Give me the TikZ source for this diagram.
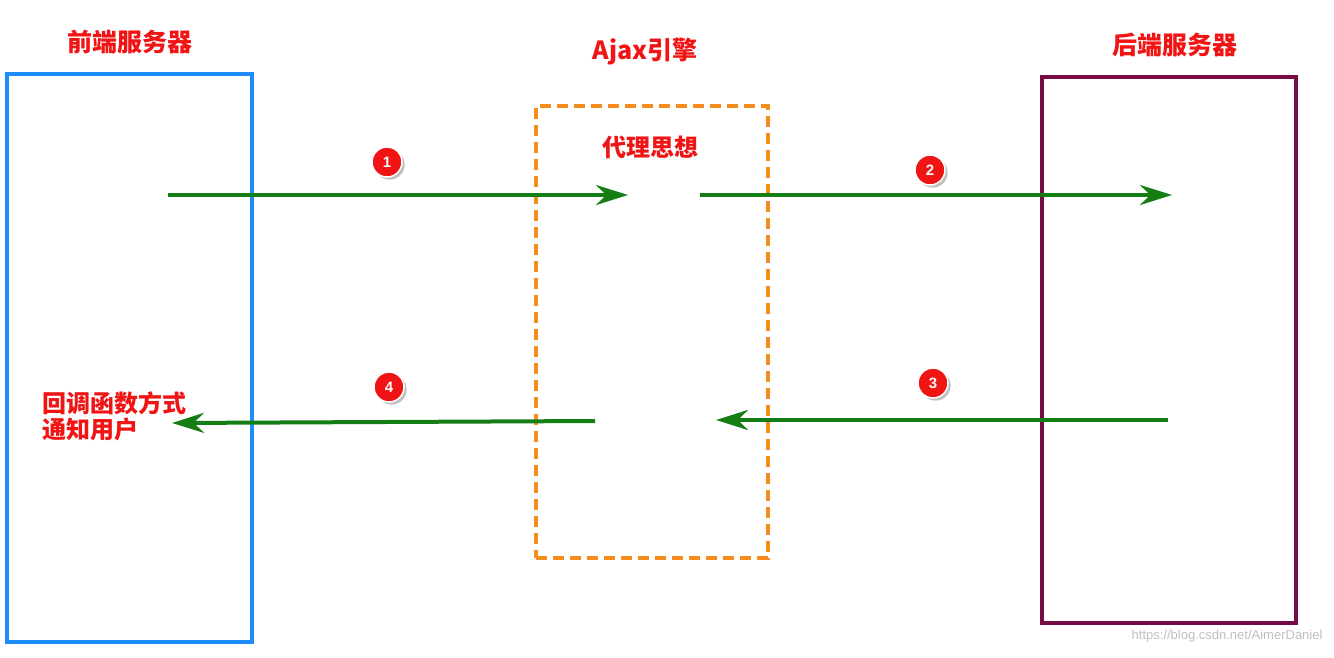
\documentclass[tikz,border=0pt]{standalone}
\usepackage{fontspec}
\setmainfont{Liberation Sans}
\newfontfamily\cjk{Noto Sans CJK SC}
\usetikzlibrary{arrows.meta,shadows}
\definecolor{myblue}{RGB}{30,140,250}
\definecolor{myorange}{RGB}{245,140,30}
\definecolor{mypurple}{RGB}{120,10,70}
\definecolor{mygreen}{RGB}{20,125,20}
\definecolor{myred}{RGB}{240,20,20}
\tikzset{
 title/.style={text=myred,font=\cjk\bfseries\fontsize{25}{28}\selectfont},
 lbl/.style={text=myred,font=\cjk\bfseries\fontsize{24}{26}\selectfont},
 flow/.style={draw=mygreen,line width=4pt,-{Stealth[length=32pt,width=20pt]}},
 num/.style={circle,fill=myred,draw=white,line width=1.5pt,minimum size=30pt,inner sep=0pt,text=white,font=\bfseries\fontsize{15}{17}\selectfont,drop shadow={opacity=0.5}},
}
\begin{document}
\begin{tikzpicture}[x=1pt,y=-1pt]
\useasboundingbox (0,0) rectangle (1334,657);
\node[draw=myblue,line width=4pt,minimum width=245pt,minimum height=568pt,anchor=north west] (fe) at (5,72) {};
\node[draw=myorange,line width=3.5pt,dash pattern=on 11pt off 6pt,minimum width=232pt,minimum height=452pt,anchor=north west] (aj) at (534,104) {};
\node[draw=mypurple,line width=4pt,minimum width=254pt,minimum height=546pt,anchor=north west] (be) at (1040,75) {};
\node[title] (t1) at (130,42) {前端服务器};
\node[title] (t2) at (645,52) {Ajax引擎};
\node[title] (t3) at (1175,45) {后端服务器};
\node[lbl] (proxy) at (650,147) {代理思想};
\node[lbl,align=left,anchor=west,inner sep=0pt] (cb) at (42,416) {回调函数方式\\通知用户};
\coordinate (a1) at (168,195); \coordinate (b1) at (628,195);
\coordinate (a2) at (700,195); \coordinate (b2) at (1172,195);
\coordinate (a3) at (1168,420); \coordinate (b3) at (716,420);
\coordinate (a4) at (595,421); \coordinate (b4) at (172,423);
\draw[flow] (a1) -- (b1);
\draw[flow] (a2) -- (b2);
\draw[flow] (a3) -- (b3);
\draw[flow] (a4) -- (b4);
\node[num] (n1) at (387,162) {1};
\node[num] (n2) at (930,170) {2};
\node[num] (n3) at (933,383) {3};
\node[num] (n4) at (389,387) {4};
\node[text=black!25,font=\fontsize{13}{15}\selectfont,anchor=east] (wm) at (1326,636) {https://blog.csdn.net/AimerDaniel};
\end{tikzpicture}
\end{document}
